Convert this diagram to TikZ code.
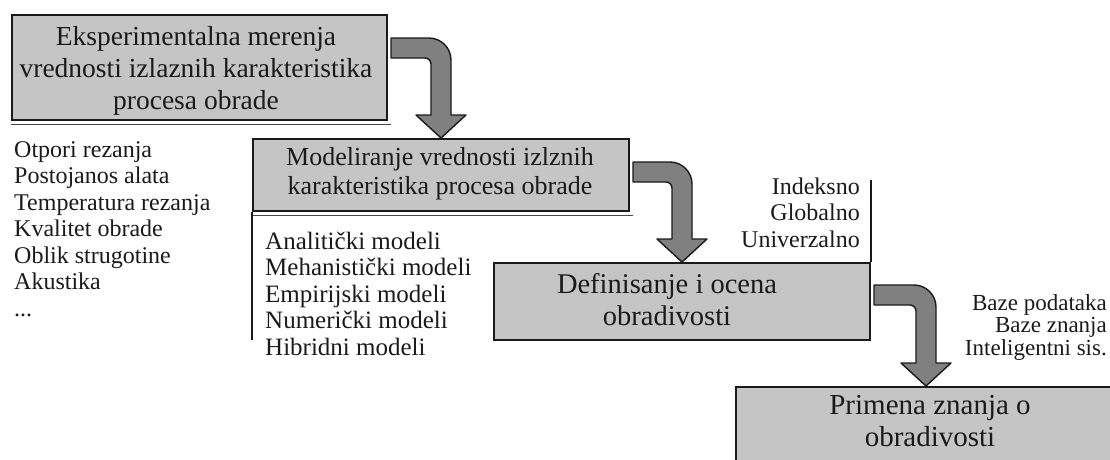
\documentclass[tikz,border=0pt]{standalone}
\usepackage{fontspec}
\setmainfont{Liberation Serif}
\usetikzlibrary{calc}

\definecolor{boxgray}{RGB}{197,197,197}
\definecolor{arrowgray}{RGB}{128,128,128}
\definecolor{ink}{RGB}{26,26,26}

\tikzset{
  stagebox/.style={rectangle, draw=ink, line width=2pt, fill=boxgray,
                   anchor=north west, inner sep=0pt},
  stagetext/.style={align=center, text=ink, inner sep=0pt},
  itemtext/.style={text=ink, inner sep=0pt},
  flowarrow/.style={draw=ink, line width=1.4pt, fill=arrowgray, line join=round},
  rule/.style={draw=ink, line width=1.6pt},
  shadowline/.style={draw=ink!80, line width=0.9pt},
}

% Bent block arrow: #1 = start of the shaft (its centre line), #2 = tip.
% Shaft 20pt wide, head 50pt wide and 23pt long, outer bend radius 22pt.
\newcommand{\flowarrow}[2]{%
  \draw[flowarrow] let \p1=(#1), \p2=(#2) in
    (\x1,{\y1+10pt}) -- ({\x2-12pt},{\y1+10pt})
    .. controls ({\x2+0.1pt},{\y1+10pt}) and ({\x2+10pt},{\y1+0.1pt}) ..
    ({\x2+10pt},{\y1-12pt}) -- ({\x2+10pt},{\y2+23pt})
    -- ({\x2+25pt},{\y2+23pt}) -- (\x2,\y2) -- ({\x2-25pt},{\y2+23pt})
    -- ({\x2-10pt},{\y2+23pt}) -- ({\x2-10pt},{\y1-16pt})
    .. controls ({\x2-10pt},{\y1-12.7pt}) and ({\x2-12.7pt},{\y1-10pt}) ..
    ({\x2-16pt},{\y1-10pt}) -- (\x1,{\y1-10pt}) -- cycle;}

\begin{document}
\begin{tikzpicture}[x=1pt, y=-1pt]
\useasboundingbox (0,0) rectangle (1110,459);

% ---- stage boxes ----
\node[stagebox, minimum width=375pt, minimum height=105pt] (b1) at (11,14) {};
\node[stagebox, minimum width=376pt, minimum height=72pt]  (b2) at (252,138) {};
\node[stagebox, minimum width=376pt, minimum height=77pt]  (b3) at (493,262) {};
\begin{scope}
  \clip (0,0) rectangle (1110,459);
  \node[stagebox, minimum width=380pt, minimum height=90pt] (b4) at (735,386) {};
\end{scope}

\draw[shadowline] ([yshift=-3pt]b1.south west) -- ([xshift=3pt,yshift=-3pt]b1.south east);
\draw[shadowline] ([yshift=-3pt]b2.south west) -- ([xshift=3pt,yshift=-3pt]b2.south east);

% ---- box captions ----
\node[stagetext, font=\fontsize{27.5}{32}\selectfont] (b1t) at (196,71)
  {Eksperimentalna merenja\\vrednosti izlaznih karakteristika\\procesa obrade};
\node[stagetext, font=\fontsize{26}{29}\selectfont] (b2t) at (440,174)
  {Modeliranje vrednosti izlznih\\karakteristika procesa obrade};
\node[stagetext, font=\fontsize{28.5}{32}\selectfont] (b3t) at (667,300)
  {Definisanje i ocena\\obradivosti};
\node[stagetext, font=\fontsize{29}{32}\selectfont] (b4t) at (930,421)
  {Primena znanja o\\obradivosti};

% ---- bent arrows between the stages ----
\flowarrow{$(b1.north east)+(3,34)$}{b2.north}
\flowarrow{$(b2.north east)+(3,34)$}{b3.north}
\flowarrow{$(b3.north east)+(3,33)$}{b4.north}

% ---- measured characteristics ----
\begin{scope}[every node/.style={itemtext, anchor=base west, font=\fontsize{24}{26.5}\selectfont}]
  \node (m1) at (14,157)   {Otpori rezanja};
  \node (m2) at (14,183.5) {Postojanos alata};
  \node (m3) at (14,210)   {Temperatura rezanja};
  \node (m4) at (14,236.5) {Kvalitet obrade};
  \node (m5) at (14,263)   {Oblik strugotine};
  \node (m6) at (14,289.5) {Akustika};
  \node (m7) at (14,316)   {...};
\end{scope}

% ---- model types ----
\coordinate (modelsend) at (252,340);
\draw[rule] (b2.south west) -- (b2.south west |- modelsend);
\begin{scope}[every node/.style={itemtext, anchor=base west, font=\fontsize{25}{26.5}\selectfont}]
  \node (d1) at (265,249)   {Analitički modeli};
  \node (d2) at (265,275.5) {Mehanistički modeli};
  \node (d3) at (265,302)   {Empirijski modeli};
  \node (d4) at (265,328.5) {Numerički modeli};
  \node (d5) at (265,355)   {Hibridni modeli};
\end{scope}

% ---- machinability levels ----
\coordinate (levelstop) at (868,180);
\draw[rule] (b3.north east) -- (b3.north east |- levelstop);
\begin{scope}[every node/.style={itemtext, anchor=base east, font=\fontsize{24}{26.5}\selectfont}]
  \node (g1) at (860,194)   {Indeksno};
  \node (g2) at (860,220.5) {Globalno};
  \node (g3) at (860,247)   {Univerzalno};
\end{scope}

% ---- knowledge tools ----
\begin{scope}[every node/.style={itemtext, anchor=base east, font=\fontsize{23}{22.5}\selectfont}]
  \node (k1) at (1107,310)   {Baze podataka};
  \node (k2) at (1107,332.5) {Baze znanja};
  \node (k3) at (1107,355)   {Inteligentni sis.};
\end{scope}
\end{tikzpicture}
\end{document}
